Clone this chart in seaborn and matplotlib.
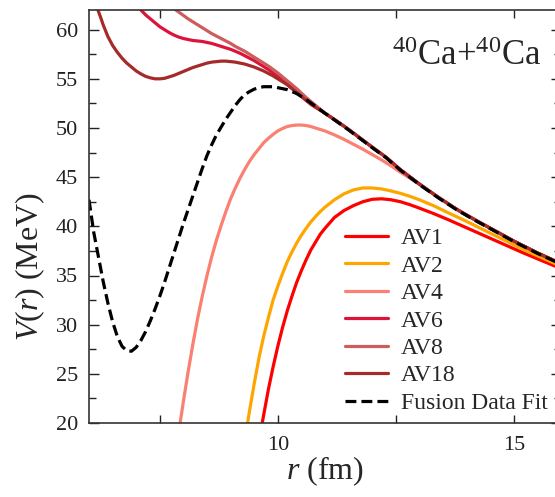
import matplotlib
matplotlib.use("Agg")
import matplotlib.pyplot as plt
from matplotlib.ticker import MultipleLocator, FuncFormatter
import seaborn as sns
import pandas as pd

# ---- data ----
merged_x = [11.0, 11.25, 11.5, 11.75, 12.0, 12.3, 12.6, 13.0, 13.4, 13.8, 14.2, 14.6, 15.0, 15.5, 16.0]
merged_y = [51.5, 50.7, 49.85, 48.95, 48.05, 47.0, 45.75, 44.3, 42.95, 41.7, 40.6, 39.55, 38.5, 37.3, 36.2]

av1_x = [9.67, 9.7, 9.8, 9.9, 10.0, 10.1, 10.2, 10.3, 10.4, 10.5, 10.6, 10.7, 10.8, 10.9, 11.0,
         11.2, 11.4, 11.6, 11.8, 12.0, 12.2, 12.4, 12.6, 12.8, 13.0, 13.3, 13.6, 14.0, 14.4, 14.8,
         15.2, 15.6, 16.0]
av1_y = [20.0, 20.8, 23.4, 25.7, 27.8, 29.7, 31.4, 32.9, 34.3, 35.5, 36.6, 37.6, 38.4, 39.2, 39.8,
         40.9, 41.6, 42.1, 42.5, 42.75, 42.8, 42.7, 42.5, 42.2, 41.85, 41.3, 40.7, 39.85, 39.0, 38.15,
         37.3, 36.5, 35.7]

av2_x = [9.36, 9.4, 9.5, 9.6, 9.7, 9.8, 9.9, 10.0, 10.1, 10.2, 10.3, 10.4, 10.5, 10.6, 10.7, 10.8,
         10.9, 11.0, 11.2, 11.4, 11.6, 11.8, 12.0, 12.2, 12.4, 12.6, 12.8, 13.0, 13.3, 13.6, 14.0,
         14.4, 14.8, 15.2, 15.6, 16.0]
av2_y = [20.0, 21.2, 24.0, 26.6, 28.8, 30.7, 32.5, 33.9, 35.2, 36.4, 37.4, 38.3, 39.1, 39.8, 40.45, 41.0,
         41.5, 41.95, 42.7, 43.3, 43.7, 43.9, 43.9, 43.8, 43.6, 43.35, 43.05, 42.7, 42.1, 41.4, 40.5,
         39.55, 38.6, 37.65, 36.8, 35.95]

av4_x = [7.93, 8.0, 8.1, 8.2, 8.3, 8.4, 8.5, 8.6, 8.7, 8.8, 8.9, 9.0, 9.1, 9.2, 9.3, 9.4, 9.5, 9.6,
         9.7, 9.8, 9.9, 10.0, 10.1, 10.2, 10.3, 10.4, 10.5, 10.6, 10.7, 10.8, 10.9, 11.0, 11.2, 11.4,
         11.6, 11.8, 12.0, 12.2, 12.4, 12.6, 12.8, 13.0, 13.4, 13.8, 14.2, 14.6, 15.0, 15.5, 16.0]
av4_y = [20.0, 22.2, 25.2, 28.0, 30.6, 32.9, 35.0, 36.9, 38.6, 40.1, 41.5, 42.8, 43.9, 44.9, 45.8, 46.6, 47.3, 47.9,
         48.5, 48.95, 49.35, 49.7, 49.95, 50.15, 50.25, 50.3, 50.3, 50.25, 50.15, 50.0, 49.85, 49.7, 49.3, 48.85,
         48.35, 47.85, 47.3, 46.75, 46.15, 45.5, 44.9, 44.25, 42.95, 41.7, 40.6, 39.55, 38.5, 37.3, 36.2]

av6_x = [7.1, 7.2, 7.3, 7.4, 7.5, 7.6, 7.7, 7.8, 7.9, 8.0, 8.1, 8.2, 8.3, 8.4, 8.5, 8.6, 8.7, 8.8, 8.9,
         9.0, 9.1, 9.2, 9.3, 9.4, 9.5, 9.6, 9.7, 9.8, 9.9, 10.0, 10.1, 10.2, 10.3, 10.4, 10.5, 10.6,
         10.7, 10.85] + merged_x
av6_y = [62.0, 61.5, 61.1, 60.7, 60.3, 60.0, 59.7, 59.45, 59.25, 59.1, 59.0, 58.9, 58.85, 58.8, 58.7, 58.6, 58.45, 58.3, 58.15,
         58.0, 57.8, 57.6, 57.35, 57.1, 56.85, 56.55, 56.25, 55.95, 55.6, 55.25, 54.85, 54.45, 54.05, 53.65, 53.25, 52.85,
         52.5, 52.0] + merged_y

av8_x = [7.84, 7.9, 8.0, 8.1, 8.2, 8.3, 8.4, 8.5, 8.6, 8.7, 8.8, 8.9, 9.0, 9.1, 9.2, 9.3, 9.4, 9.5, 9.6,
         9.7, 9.8, 9.9, 10.0, 10.1, 10.2, 10.3, 10.4, 10.5, 10.6, 10.7, 10.85] + merged_x
av8_y = [62.0, 61.8, 61.45, 61.1, 60.8, 60.5, 60.2, 59.9, 59.6, 59.35, 59.1, 58.85, 58.6, 58.3, 58.05, 57.8, 57.5, 57.2, 56.9,
         56.6, 56.3, 55.95, 55.6, 55.2, 54.8, 54.4, 54.0, 53.55, 53.1, 52.7, 52.1] + merged_y

av18_x = [6.19, 6.25, 6.3, 6.35, 6.4, 6.5, 6.6, 6.7, 6.8, 6.9, 7.0, 7.1, 7.2, 7.3, 7.4, 7.5, 7.6, 7.7, 7.8,
          7.9, 8.0, 8.1, 8.2, 8.3, 8.4, 8.5, 8.6, 8.7, 8.8, 8.9, 9.0, 9.1, 9.2, 9.3, 9.4, 9.5, 9.6, 9.7,
          9.8, 9.9, 10.0, 10.1, 10.2, 10.3, 10.4, 10.5, 10.6, 10.7, 10.85] + merged_x
av18_y = [62.0, 61.2, 60.5, 59.9, 59.3, 58.4, 57.7, 57.1, 56.6, 56.2, 55.8, 55.5, 55.25, 55.1, 55.0, 55.0, 55.05, 55.2, 55.35,
          55.55, 55.75, 55.95, 56.15, 56.3, 56.45, 56.6, 56.7, 56.75, 56.8, 56.8, 56.75, 56.7, 56.6, 56.5, 56.35, 56.2, 56.0, 55.8,
          55.55, 55.3, 55.0, 54.7, 54.4, 54.0, 53.6, 53.2, 52.8, 52.4, 51.95] + merged_y

fit_x = [6.0, 6.1, 6.2, 6.3, 6.4, 6.5, 6.6, 6.7, 6.8, 6.9, 7.0, 7.1, 7.2, 7.3, 7.4, 7.5, 7.6, 7.7, 7.8,
         7.9, 8.0, 8.1, 8.2, 8.3, 8.4, 8.5, 8.6, 8.7, 8.8, 8.9, 9.0, 9.1, 9.2, 9.3, 9.4, 9.5, 9.6, 9.7,
         9.8, 9.9, 10.0, 10.2, 10.4, 10.6, 10.8, 11.0, 11.25, 11.5, 11.75, 12.0, 12.3, 12.6, 13.0, 13.4,
         13.8, 14.2, 14.6, 15.0, 15.5, 16.0]
fit_y = [42.7, 39.4, 36.9, 34.4, 32.2, 30.3, 28.8, 27.8, 27.35, 27.3, 27.7, 28.4, 29.3, 30.4, 31.6, 32.9, 34.3, 35.8, 37.3,
         38.8, 40.3, 41.7, 43.1, 44.5, 45.9, 47.2, 48.3, 49.3, 50.1, 50.9, 51.6, 52.3, 52.9, 53.4, 53.7, 53.95, 54.1, 54.2,
         54.2, 54.2, 54.1, 53.9, 53.5, 52.9, 52.2, 51.5, 50.65, 49.8, 48.9, 48.0, 46.95, 45.7, 44.25, 42.9,
         41.65, 40.55, 39.5, 38.45, 37.25, 36.15]

labels = ["AV1", "AV2", "AV4", "AV6", "AV8", "AV18", "Fusion Data Fit"]
colors = ["#ff0000", "#ffa500", "#fa8072", "#dc143c", "#cd5c5c", "#a52a2a", "#000000"]
series = [(av1_x, av1_y), (av2_x, av2_y), (av4_x, av4_y), (av6_x, av6_y),
          (av8_x, av8_y), (av18_x, av18_y), (fit_x, fit_y)]

# ---- style ----
sns.set_theme(style="ticks")
plt.rcParams["font.family"] = ["Liberation Serif", "DejaVu Serif"]
plt.rcParams["mathtext.fontset"] = "custom"
plt.rcParams["mathtext.rm"] = "Liberation Serif"
plt.rcParams["mathtext.it"] = "Liberation Serif:italic"
plt.rcParams["mathtext.bf"] = "Liberation Serif:bold"

fig = plt.figure(figsize=(5.55, 4.97), dpi=100)
ax = fig.add_axes([89 / 555, 74 / 497, 472 / 555, 413 / 497])

for (xs, ys), lab, col in zip(series, labels, colors):
    df = pd.DataFrame({"r": xs, "V": ys})
    ls = "--" if lab == "Fusion Data Fit" else "-"
    sns.lineplot(data=df, x="r", y="V", ax=ax, color=col, lw=2.3, label=lab,
                 linestyle=ls, sort=False, estimator=None)

for ln in ax.lines:
    ln.set_solid_joinstyle("round")
    ln.set_dash_joinstyle("round")
ax.lines[-1].set_dashes((3.4, 1.6))

ax.set_xlim(6, 16)
ax.set_ylim(20, 62)
ax.xaxis.set_major_locator(MultipleLocator(2.5))
ax.xaxis.set_major_formatter(FuncFormatter(lambda v, p: f"{v:.0f}" if abs(v % 5) < 1e-6 else ""))
ax.yaxis.set_major_locator(MultipleLocator(5))
ax.yaxis.set_minor_locator(MultipleLocator(2.5))
ax.tick_params(which="both", direction="in", top=True, right=True, colors="#222222",
               labelsize=16, width=1.0)
ax.tick_params(which="major", length=7)
ax.tick_params(which="minor", length=5)
ax.tick_params(axis="x", which="major", length=6, pad=9)
ax.tick_params(axis="y", which="major", pad=8)
for s in ax.spines.values():
    s.set_color("#333333")
    s.set_linewidth(1.2)

ax.set_xlabel("$r$ (fm)", fontsize=23)
ax.set_ylabel("$V(r)$ (MeV)", fontsize=23)
ax.xaxis.set_label_coords(0.5, -0.075)
ax.yaxis.set_label_coords(-0.089, 0.378)

ax.text(0.958, 0.867, "$^{40}$Ca+$^{40}$Ca", transform=ax.transAxes,
        ha="right", va="baseline", fontsize=25)

leg = ax.legend(loc="lower right", bbox_to_anchor=(0.972, 0.022), frameon=False,
                fontsize=17, handlelength=1.8, handletextpad=0.55, labelspacing=0.25,
                borderpad=0, borderaxespad=0)

fig.savefig("out.png", dpi=100)
